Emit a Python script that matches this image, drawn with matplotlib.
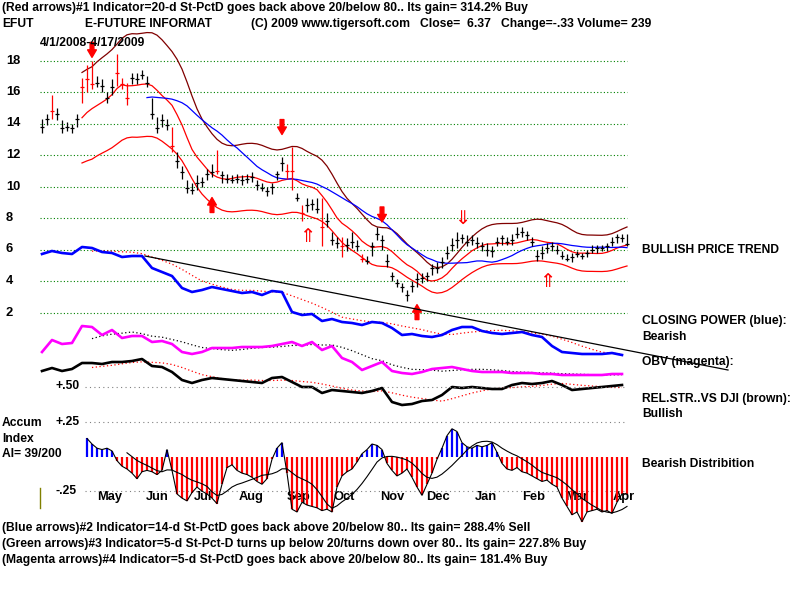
import matplotlib
matplotlib.use('Agg')
from matplotlib import pyplot as plt
from matplotlib.lines import Line2D
from matplotlib.transforms import blended_transform_factory
import matplotlib.dates as mdates
import numpy as np
import pandas as pd

# EFUT price bars 4/1/2008 - 4/17/2009 (one bar ~ 2.3 sessions)
close = [13.8,14.3,14.8,14.6,13.7,13.8,13.7,14.3,16.3,16.8,
         16.5,16.6,16.4,15.6,16.3,17.2,16.5,15.6,16.9,16.8,
         17.1,16.6,14.6,13.7,14.2,13.9,12.6,11.6,10.9,9.9,
         9.8,10.2,10.3,10.8,10.9,11.0,10.7,10.5,10.4,10.5,
         10.4,10.5,10.6,10.1,9.9,9.7,10.0,10.8,11.5,11.0,
         11.0,9.3,8.3,8.8,8.9,8.6,7.4,7.8,6.6,6.4,
         6.2,6.3,6.5,6.2,5.4,5.3,6.2,7.0,6.6,5.3,
         4.3,3.9,3.6,3.1,3.7,4.1,4.2,4.3,4.8,4.8,
         5.2,5.8,6.3,6.6,6.7,6.5,6.6,6.4,6.2,6.0,
         5.9,6.5,6.7,6.5,6.6,7.0,7.1,6.9,6.5,5.6,
         5.8,6.1,6.2,6.0,5.6,5.4,5.5,5.7,5.6,5.8,
         6.0,6.1,6.1,6.2,6.5,6.8,6.7,6.37]
high = [14.3,14.6,15.8,15.0,14.2,14.1,14.0,14.6,16.9,17.7,
        18.0,17.0,16.8,16.0,16.8,18.4,16.9,16.6,17.2,17.2,
        17.4,17.0,15.6,14.4,14.6,14.3,13.8,12.2,11.3,10.4,
        10.2,10.7,10.6,11.1,11.4,12.3,11.0,10.8,10.7,10.8,
        10.7,10.8,10.9,10.4,10.2,10.0,10.2,11.0,11.9,11.4,
        12.5,9.6,8.8,9.3,9.2,9.3,9.3,8.3,7.1,6.8,
        6.8,6.7,7.1,6.6,5.7,5.6,6.5,7.4,6.9,5.7,
        4.6,4.1,3.9,3.4,4.0,4.5,4.5,4.6,5.1,5.2,
        5.5,6.2,6.7,7.1,7.0,6.9,6.9,6.8,6.5,6.4,
        6.2,6.8,6.9,6.8,7.0,7.4,7.4,7.2,6.8,6.0,
        6.2,6.4,6.5,6.3,5.9,5.7,5.8,5.9,5.8,6.0,
        6.3,6.3,6.3,6.4,6.8,7.0,7.0,7.0]
low = [13.4,13.9,14.3,14.2,13.4,13.5,13.4,13.8,15.3,16.0,
       16.2,16.3,16.0,15.3,15.8,16.4,16.2,15.2,16.5,16.5,
       16.8,16.3,14.3,13.4,13.8,13.6,12.2,11.2,10.5,9.6,
       9.5,9.8,10.0,10.4,10.6,10.8,10.2,10.2,10.2,10.2,
       10.1,10.2,10.3,9.8,9.7,9.4,9.5,10.4,11.0,10.5,
       9.8,9.1,7.8,8.4,8.5,8.3,6.2,7.4,6.3,6.1,
       5.5,5.9,6.1,5.9,5.2,5.1,5.6,6.6,6.0,4.9,
       4.0,3.6,3.3,2.7,3.3,3.6,3.9,4.0,4.4,4.5,
       4.8,5.4,5.9,6.1,6.4,6.2,6.3,6.1,5.9,5.6,
       5.5,6.2,6.3,6.3,6.3,6.7,6.8,6.6,6.2,5.3,
       5.4,5.8,5.9,5.7,5.4,5.3,5.2,5.5,5.4,5.5,
       5.8,5.8,5.9,5.9,6.2,6.4,6.5,6.2]
red_bars = [2, 8, 9, 10, 15, 16, 17, 26, 35, 49, 50, 52, 56, 60, 64]

# signal arrows: bar index, tip price
down_arrows = [(10, 18.2, 'single'), (48, 13.3, 'single'), (68, 7.75, 'single'), (84, 7.6, 'double')]
up_arrows = [(34, 9.3, 'single'), (53, 7.25, 'double'), (75, 2.5, 'single'), (101, 4.4, 'double')]

# accumulation index, from bar 9 on
ai_start = 9
ai = [0.13,0.09,0.06,0.05,0.06,0.04,-0.03,-0.07,-0.09,-0.12,
      -0.16,-0.11,-0.10,-0.11,-0.13,-0.10,0.05,-0.10,-0.27,-0.30,
      -0.32,-0.26,-0.22,-0.25,-0.27,-0.30,-0.34,-0.20,-0.08,-0.06,
      -0.10,-0.12,-0.13,-0.15,-0.18,-0.20,-0.16,-0.02,0.06,0.10,
      -0.12,-0.38,-0.40,-0.33,-0.35,-0.36,-0.37,-0.39,-0.38,-0.40,
      -0.22,-0.14,-0.11,-0.09,-0.04,0.02,0.05,0.09,0.08,0.05,
      -0.05,-0.10,-0.14,-0.12,-0.09,-0.15,-0.22,-0.28,-0.20,-0.12,
      -0.02,0.06,0.15,0.20,0.18,0.10,0.07,0.06,0.08,0.07,
      0.08,0.10,0.03,-0.05,-0.09,-0.10,-0.08,-0.11,-0.12,-0.14,
      -0.16,-0.18,-0.17,-0.20,-0.22,-0.30,-0.36,-0.42,-0.40,-0.47,
      -0.40,-0.39,-0.38,-0.40,-0.39,-0.41,-0.33,-0.27,-0.27]

# indicators (every 2nd bar), arbitrary units
closing_power = [166,169,167,166,173,172,168,167,163,164,
                 164,152,148,144,132,128,130,133,131,129,
                 127,128,125,129,128,108,105,106,99,101,
                 98,97,95,98,97,92,85,86,84,83,
                 85,90,93,93,89,87,86,87,88,85,
                 83,74,68,67,66,66,66,67,65]
obv = [68,80,76,77,94,93,85,90,82,84,
       84,78,79,76,68,66,68,72,72,72,
       73,73,73,74,76,78,74,78,70,74,
       62,58,50,54,58,49,47,46,48,51,
       52,53,51,49,48,48,48,47,47,47,
       46,46,45,45,45,45,45,46,46]
rel_str = [49,52,49,51,57,57,56,58,58,59,
           61,54,53,48,40,37,40,42,41,40,
           39,38,37,42,43,38,33,33,27,30,
           29,28,27,29,32,18,15,16,19,20,
           25,33,32,33,32,31,31,35,37,36,
           37,39,35,30,31,32,33,34,35]
cp_trend_bar = [20.6, 137.2]
cp_trend_val = [164, 50]

price_ticks = [2, 4, 6, 8, 10, 12, 14, 16, 18]
months = ['May', 'Jun', 'Jul', 'Aug', 'Sep', 'Oct', 'Nov', 'Dec', 'Jan', 'Feb', 'Mar', 'Apr']

W, H = 800, 600
def fx(p): return p / W
def fy(p): return 1 - p / H

FONT = 'Liberation Sans'
FS = 8.75

fig = plt.figure(figsize=(8, 6), dpi=100)
fig.patch.set_facecolor('white')

dates = pd.date_range('2008-04-01', '2009-04-17', periods=len(close))
x = mdates.date2num(dates)
step = x[1] - x[0]
ppd = 5.0 / step
xlim = (x[0] - 2 / ppd, x[0] + 588 / ppd)
hw = 2 / ppd

def bar_x(b):
    return x[0] + np.asarray(b) * step

# --- price panel ---
ax = fig.add_axes([fx(40), fy(344), 590 / W, (344 - 30) / H])
ax.set_xlim(xlim)
ax.set_ylim(0, (344 - 30) / 15.75)
ax.axis('off')
for t in price_ticks:
    ax.axhline(t, xmin=0, xmax=587 / 590, color='#008000', lw=0.8, ls=(0, (1, 2)))
    ax.text(-34 / 590, t, str(t), transform=ax.get_yaxis_transform(), ha='left', va='center',
            fontsize=FS + 0.5, fontweight='bold', family=FONT)

s = pd.Series(close)
mid = s.rolling(9).mean()
smooth = mid.rolling(3, min_periods=1).mean()
ax.plot(x, mid, color='#ff0000', lw=0.9)
ax.plot(x, smooth * 1.2, color='#800000', lw=0.9)
ax.plot(x, smooth * 0.8, color='#ff0000', lw=0.9)
ax.plot(x, s.rolling(22).mean(), color='#0000ff', lw=0.9)

colors = ['#ff0000' if i in red_bars else 'black' for i in range(len(close))]
ax.vlines(x, low, high, colors=colors, lw=0.9, zorder=3)
ax.hlines(close, x - hw, x + hw, colors=colors, lw=0.9, zorder=3)

astyle = 'simple,head_width=0.7,head_length=0.6,tail_width=0.3'
for b, tip, kind in down_arrows:
    xb = bar_x(b)
    if kind == 'single':
        ax.annotate('', xy=(xb, tip), xytext=(xb, tip + 0.95),
                    arrowprops=dict(arrowstyle=astyle, color='#ff0000', mutation_scale=9,
                                    shrinkA=0, shrinkB=0))
    else:
        ax.text(xb, tip - 0.2, '\u21d3', color='#ff0000', ha='center', va='bottom', fontsize=14,
                family='DejaVu Sans')
for b, tip, kind in up_arrows:
    xb = bar_x(b)
    if kind == 'single':
        ax.annotate('', xy=(xb, tip), xytext=(xb, tip - 0.95),
                    arrowprops=dict(arrowstyle=astyle, color='#ff0000', mutation_scale=9,
                                    shrinkA=0, shrinkB=0))
    else:
        ax.text(xb, tip + 0.2, '\u21d1', color='#ff0000', ha='center', va='top', fontsize=14,
                family='DejaVu Sans')

# --- indicator panel ---
axi = fig.add_axes([fx(40), fy(420), 590 / W, 180 / H])
axi.set_xlim(xlim)
axi.set_ylim(0, 180)
axi.axis('off')
xi = x[::2]
cp_s = pd.Series(closing_power)
obv_s = pd.Series(obv)
rs_s = pd.Series(rel_str)
axi.plot(xi, cp_s.rolling(6).mean(), color='#ff0000', lw=0.9, ls=(0, (1, 2)))
axi.plot(xi, cp_s, color='#0000ff', lw=1.9)
axi.plot(xi, obv_s.rolling(6).mean(), color='black', lw=0.9, ls=(0, (1, 2)))
axi.plot(xi, obv_s, color='#ff00ff', lw=1.9)
axi.plot(xi, rs_s.rolling(6).mean(), color='#ff0000', lw=0.9, ls=(0, (1, 2)))
axi.plot(xi, rs_s, color='black', lw=1.9)
axi.plot(bar_x(cp_trend_bar), cp_trend_val, color='black', lw=0.9, clip_on=False, zorder=5)

# --- accumulation index panel ---
ZERO, SCALE = 456.5, 138.7
axa = fig.add_axes([fx(40), fy(525), 590 / W, 150 / H])
axa.set_xlim(xlim)
axa.set_ylim((ZERO - 525) / SCALE, (ZERO - 375) / SCALE)
axa.axis('off')
for lvl in [0.5, 0.25, -0.25]:
    axa.axhline(lvl, xmin=45 / 590, xmax=587 / 590, color='#808080', lw=0.8, ls=(0, (1, 3)))
xa = x[ai_start:]
ai_s = pd.Series(ai)
axa.vlines(xa, 0, ai, colors=['#0000ff' if v > 0 else '#ff0000' for v in ai], lw=1.6, zorder=2)
axa.plot(xa, ai, color='black', lw=0.8, zorder=3)
axa.plot(xa, ai_s.rolling(9).mean(), color='black', lw=0.8, zorder=3)

mtrans = blended_transform_factory(axa.transData, fig.transFigure)
mdays = pd.date_range('2008-05-01', '2009-04-01', freq='MS') + pd.Timedelta(days=14)
for m, d in zip(months, mdays):
    axa.text(mdates.date2num(d), fy(497), m, transform=mtrans, ha='center', va='center',
             fontsize=FS + 0.5, fontweight='bold', family=FONT, zorder=1)

fig.add_artist(Line2D([fx(40), fx(40)], [fy(488), fy(508)], color='#808000', lw=1))

def label(px, py, s, **kw):
    fig.text(fx(px), fy(py), s, ha='left', va='center', fontsize=FS, fontweight='bold',
             family=FONT, **kw)

label(2, 8, '(Red arrows)#1 Indicator=20-d St-PctD goes back above 20/below 80.. Its gain= 314.2% Buy')
label(2, 24, 'EFUT')
label(85, 24, 'E-FUTURE INFORMAT')
label(251, 24, '(C) 2009 www.tigersoft.com')
label(420, 24, 'Close=  6.37   Change=-.33 Volume= 239')
label(40, 43, '4/1/2008-4/17/2009')

label(642, 250, 'BULLISH PRICE TREND')
label(642, 321, 'CLOSING POWER (blue):')
label(642, 337, 'Bearish')
label(642, 362, 'OBV (magenta):')
label(642, 399, 'REL.STR..VS DJI (brown):')
label(642, 414, 'Bullish')
label(642, 464, 'Bearish Distribition')

label(2, 423, 'Accum')
label(2, 439, 'Index')
label(2, 454, 'AI= 39/200')
label(55, 386, '+.50')
label(55, 422, '+.25')
label(55, 491, '-.25')

label(2, 528, '(Blue arrows)#2 Indicator=14-d St-PctD goes back above 20/below 80.. Its gain= 288.4% Sell')
label(2, 544, '(Green arrows)#3 Indicator=5-d St-Pct-D turns up below 20/turns down over 80.. Its gain= 227.8% Buy')
label(2, 560, '(Magenta arrows)#4 Indicator=5-d St-PctD goes back above 20/below 80.. Its gain= 181.4% Buy')

fig.savefig('out.png', dpi=100, facecolor='white')
